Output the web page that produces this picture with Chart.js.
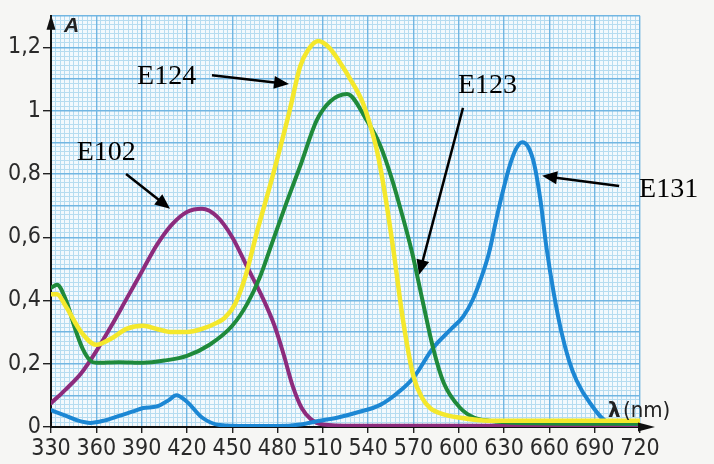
<!DOCTYPE html>
<html>
<head>
<meta charset="utf-8">
<script src="https://cdn.jsdelivr.net/npm/chart.js@4.4.1/dist/chart.umd.min.js"></script>
<style>
  html, body { margin: 0; padding: 0; background: #f6f6f4; }
  #wrap { width: 714px; height: 464px; }
</style>
</head>
<body>
<div id="wrap"><canvas id="spectra" width="714" height="464"></canvas></div>
<script>
// Absorption spectra of food dyes (wavelength in nm, absorbance A)
const e102Wavelength = [330, 340, 350, 360, 370, 380, 390, 400, 410, 420, 430, 440, 450, 460, 470, 478, 484, 490, 496, 502, 510, 530, 600, 720];
const e102Absorbance = [0.075, 0.12, 0.17, 0.24, 0.32, 0.405, 0.49, 0.575, 0.64, 0.68, 0.69, 0.665, 0.60, 0.505, 0.41, 0.32, 0.23, 0.13, 0.06, 0.025, 0.008, 0.004, 0.004, 0.004];

const e124Wavelength = [330, 334, 340, 350, 360, 370, 380, 391, 400, 410, 420, 430, 440, 445, 452, 459, 466, 476, 488, 495, 500, 507, 514, 521, 530, 536, 541, 546, 551, 557, 563, 570, 576, 581, 590, 600, 620, 720];
const e124Absorbance = [0.42, 0.42, 0.38, 0.30, 0.26, 0.28, 0.31, 0.32, 0.31, 0.30, 0.30, 0.31, 0.33, 0.345, 0.39, 0.48, 0.61, 0.78, 1.0, 1.14, 1.19, 1.22, 1.20, 1.155, 1.085, 1.03, 0.96, 0.87, 0.74, 0.55, 0.34, 0.16, 0.09, 0.06, 0.04, 0.03, 0.02, 0.02];

const e123Wavelength = [330, 334, 340, 346, 351, 356, 360, 375, 391, 405, 420, 435, 450, 460, 468, 477, 486, 495, 506, 515, 526, 539, 548, 556, 562, 569, 576, 583, 590, 601, 610, 620, 650, 720];
const e123Absorbance = [0.44, 0.45, 0.40, 0.31, 0.247, 0.21, 0.203, 0.205, 0.203, 0.21, 0.225, 0.26, 0.32, 0.39, 0.47, 0.59, 0.71, 0.825, 0.97, 1.03, 1.053, 0.97, 0.89, 0.78, 0.68, 0.553, 0.40, 0.25, 0.14, 0.06, 0.03, 0.02, 0.012, 0.01];

const e131Wavelength = [330, 340, 348, 356, 365, 375, 385, 391, 400, 408, 413, 420, 430, 442, 460, 480, 495, 508, 520, 532, 548, 560, 570, 583, 595, 603, 609, 614, 620, 625, 630, 634, 638, 642, 646, 650, 654, 658, 663, 668, 673, 678, 687, 699, 720];
const e131Absorbance = [0.053, 0.035, 0.02, 0.013, 0.02, 0.035, 0.05, 0.06, 0.065, 0.085, 0.10, 0.08, 0.03, 0.006, 0.003, 0.003, 0.008, 0.02, 0.03, 0.045, 0.07, 0.11, 0.156, 0.25, 0.31, 0.35, 0.40, 0.46, 0.55, 0.66, 0.76, 0.83, 0.88, 0.90, 0.885, 0.83, 0.72, 0.57, 0.42, 0.30, 0.21, 0.147, 0.075, 0.016, 0.01];

const yTickLabels = ['0', '0,2', '0,4', '0,6', '0,8', '1', '1,2'];

// labels with arrows, in data units (nm, A)
const callouts = [
  { text: 'E102', at: [347, 0.866], from: [379.7, 0.80], to: [408.8, 0.69] },
  { text: 'E124', at: [387, 1.109], from: [436.6, 1.112], to: [487.6, 1.084] },
  { text: 'E123', at: [599.5, 1.078], from: [602.8, 1.009], to: [573.7, 0.481] },
  { text: 'E131', at: [719.4, 0.75], from: [706.2, 0.762], to: [655.2, 0.794] }
];

const toPoints = (xs, ys) => xs.map((x, i) => ({ x: x, y: ys[i] }));

const narrowFont = "'Liberation Sans Narrow', 'DejaVu Sans Condensed', 'Roboto', sans-serif";
const minorColor = '#b6dcf0';
const majorColor = '#72b6e2';

const paperPlugin = {
  id: 'paper',
  beforeDraw(chart) {
    const { ctx, chartArea: a } = chart;
    ctx.save();
    ctx.fillStyle = '#f6f6f4';
    ctx.fillRect(0, 0, chart.width, chart.height);
    ctx.fillStyle = '#f3f9fd';
    ctx.fillRect(a.left, a.top, a.right - a.left, a.bottom - a.top);
    ctx.restore();
  }
};

function arrowHead(ctx, x1, y1, x2, y2, len, half) {
  const ang = Math.atan2(y2 - y1, x2 - x1);
  ctx.beginPath();
  ctx.moveTo(x2, y2);
  ctx.lineTo(x2 - len * Math.cos(ang) + half * Math.sin(ang), y2 - len * Math.sin(ang) - half * Math.cos(ang));
  ctx.lineTo(x2 - len * Math.cos(ang) - half * Math.sin(ang), y2 - len * Math.sin(ang) + half * Math.cos(ang));
  ctx.closePath();
  ctx.fill();
}

const decorPlugin = {
  id: 'decor',
  afterDraw(chart) {
    const { ctx, chartArea: a, scales } = chart;
    const xs = scales.x, ys = scales.y;
    ctx.save();
    ctx.fillStyle = '#111';
    ctx.strokeStyle = '#111';
    // axis arrows
    arrowHead(ctx, a.left, a.top + 20, a.left, a.top - 1, 15, 4.5);
    ctx.lineWidth = 2;
    ctx.beginPath();
    ctx.moveTo(a.right, a.bottom);
    ctx.lineTo(a.right + 6, a.bottom);
    ctx.stroke();
    arrowHead(ctx, a.right - 10, a.bottom, a.right + 15, a.bottom, 17, 4.5);
    // axis titles
    ctx.fillStyle = '#222';
    ctx.textBaseline = 'alphabetic';
    ctx.font = "italic bold 21px 'Liberation Sans', Arial, sans-serif";
    ctx.fillText('A', a.left + 13, a.top + 16);
    ctx.font = "bold 22px " + narrowFont;
    ctx.fillText('\u03bb', a.right - 32, a.bottom - 10);
    ctx.font = "22px " + narrowFont;
    ctx.fillText('(nm)', a.right - 17, a.bottom - 10);
    // callouts
    ctx.fillStyle = '#000';
    ctx.strokeStyle = '#000';
    ctx.lineWidth = 2.5;
    ctx.font = "28px 'Liberation Serif', 'Times New Roman', serif";
    ctx.textBaseline = 'middle';
    callouts.forEach(c => {
      ctx.fillText(c.text, xs.getPixelForValue(c.at[0]), ys.getPixelForValue(c.at[1]));
      const x1 = xs.getPixelForValue(c.from[0]), y1 = ys.getPixelForValue(c.from[1]);
      const x2 = xs.getPixelForValue(c.to[0]), y2 = ys.getPixelForValue(c.to[1]);
      const ang = Math.atan2(y2 - y1, x2 - x1);
      ctx.beginPath();
      ctx.moveTo(x1, y1);
      ctx.lineTo(x2 - 10 * Math.cos(ang), y2 - 10 * Math.sin(ang));
      ctx.stroke();
      arrowHead(ctx, x1, y1, x2, y2, 15, 6.5);
    });
    ctx.restore();
  }
};

const isMultiple = (v, step) => Math.abs(v / step - Math.round(v / step)) < 1e-6;

const lineStyle = { pointRadius: 0, fill: false, cubicInterpolationMode: 'monotone', borderCapStyle: 'round', borderJoinStyle: 'round' };

new Chart(document.getElementById('spectra'), {
  type: 'line',
  data: {
    datasets: [
      Object.assign({ label: 'E124', data: toPoints(e124Wavelength, e124Absorbance), borderColor: '#f4e82c', borderWidth: 4.5, order: 1 }, lineStyle),
      Object.assign({ label: 'E123', data: toPoints(e123Wavelength, e123Absorbance), borderColor: '#1f8a3b', borderWidth: 4, order: 2 }, lineStyle),
      Object.assign({ label: 'E131', data: toPoints(e131Wavelength, e131Absorbance), borderColor: '#1c87d4', borderWidth: 4, order: 3 }, lineStyle),
      Object.assign({ label: 'E102', data: toPoints(e102Wavelength, e102Absorbance), borderColor: '#8d2b7d', borderWidth: 4, order: 4 }, lineStyle)
    ]
  },
  options: {
    responsive: false,
    animation: false,
    layout: { padding: { top: 11, right: 74, left: 0, bottom: 0 } },
    plugins: { legend: { display: false }, tooltip: { enabled: false } },
    scales: {
      xMinor: {
        type: 'linear', position: 'bottom', min: 330, max: 720,
        ticks: { display: false, stepSize: 3 },
        grid: { color: c => isMultiple(c.tick.value, 30) ? 'rgba(0,0,0,0)' : minorColor, drawTicks: false, lineWidth: 1 },
        border: { display: false },
        afterFit: s => { s.height = 0; }
      },
      yMinor: {
        type: 'linear', position: 'left', min: 0, max: 1.3,
        ticks: { display: false, stepSize: 0.1 / 7 },
        grid: { color: c => isMultiple(c.tick.value, 0.1) ? 'rgba(0,0,0,0)' : minorColor, drawTicks: false, lineWidth: 1 },
        border: { display: false },
        afterFit: s => { s.width = 0; }
      },
      x: {
        type: 'linear', position: 'bottom', min: 330, max: 720,
        ticks: { stepSize: 30, autoSkip: false, maxRotation: 0, color: '#2a2a2a', padding: 2, font: { family: narrowFont, size: 23 } },
        grid: { color: majorColor, lineWidth: 1.4, tickColor: '#222', tickLength: 6 },
        border: { color: '#111', width: 2 },
        afterFit: s => { s.height = 37; }
      },
      y: {
        type: 'linear', position: 'left', min: 0, max: 1.3,
        ticks: {
          stepSize: 0.1, autoSkip: false, color: '#2a2a2a', padding: 2,
          font: { family: narrowFont, size: 23 },
          callback: v => isMultiple(v, 0.2) ? yTickLabels[Math.round(v / 0.2)] : ''
        },
        grid: {
          color: majorColor, lineWidth: 1.4, tickLength: 8,
          tickColor: c => isMultiple(c.tick.value, 0.2) ? '#222' : 'rgba(0,0,0,0)'
        },
        border: { color: '#111', width: 2 },
        afterFit: s => { s.width = 51; }
      }
    }
  },
  plugins: [paperPlugin, decorPlugin]
});
</script>
</body>
</html>
